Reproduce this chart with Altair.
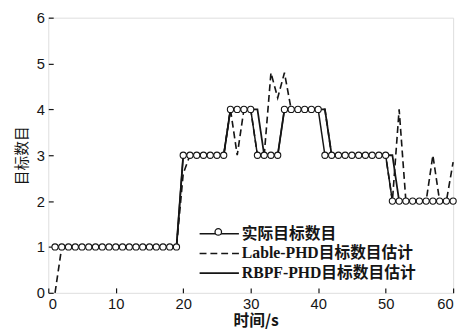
import altair as alt
import pandas as pd

names = ["实际目标数目", "Lable-PHD目标数目估计", "RBPF-PHD目标数目估计"]

t = [1, 2, 3, 4, 5, 6, 7, 8, 9, 10, 11, 12, 13, 14, 15, 16, 17, 18, 19, 20,
     21, 22, 23, 24, 25, 26, 27, 28, 29, 30, 31, 32, 33, 34, 35, 36, 37, 38, 39, 40,
     41, 42, 43, 44, 45, 46, 47, 48, 49, 50, 51, 52, 53, 54, 55, 56, 57, 58, 59, 60]

actual = [1, 1, 1, 1, 1, 1, 1, 1, 1, 1, 1, 1, 1, 1, 1, 1, 1, 1, 1, 3,
          3, 3, 3, 3, 3, 3, 4, 4, 4, 4, 3, 3, 3, 3, 4, 4, 4, 4, 4, 4,
          3, 3, 3, 3, 3, 3, 3, 3, 3, 3, 2, 2, 2, 2, 2, 2, 2, 2, 2, 2]

lable = [0, 1, 1, 1, 1, 1, 1, 1, 1, 1, 1, 1, 1, 1, 1, 1, 1, 1, 1, 2.6,
         3, 3, 3, 3, 3, 3, 4, 3, 4, 4, 3, 3, 4.8, 4.25, 4.8, 4, 4, 4, 4, 4,
         4, 3, 3, 3, 3, 3, 3, 3, 3, 3, 2, 4, 2, 2, 2, 2, 3, 2, 2, 2.85]

rbpf = [1, 1, 1, 1, 1, 1, 1, 1, 1, 1, 1, 1, 1, 1, 1, 1, 1, 1, 1, 3,
        3, 3, 3, 3, 3, 3, 4, 4, 4, 4, 4, 3, 3, 3, 4, 4, 4, 4, 4, 4,
        4, 3, 3, 3, 3, 3, 3, 3, 3, 3, 3, 2, 2, 2, 2, 2, 2, 2, 2, 2]

x_ticks = [0, 10, 20, 30, 40, 50, 60]
y_ticks = [0, 1, 2, 3, 4, 5, 6]

df = pd.DataFrame({
    "t": t + t + t,
    "v": actual + lable + rbpf,
    "s": [names[0]] * len(t) + [names[1]] * len(t) + [names[2]] * len(t),
})

INK = "#151515"
W, H = 412, 280

line_path = "M-2,0H2"

xs = alt.Scale(domain=[0, 60], nice=False, zero=False)
ys = alt.Scale(domain=[0, 6], nice=False)

line_legend = alt.Legend(
    title=None, orient="none", legendX=154, legendY=209, padding=0,
    labelFont="Liberation Serif, Noto Sans CJK SC", labelFontSize=16,
    labelFontWeight="bold", labelColor=INK, labelLimit=400, labelOffset=12,
    symbolSize=400, symbolOffset=9, symbolStrokeColor=INK, symbolStrokeWidth=1.7,
    symbolType=line_path, rowPadding=1, zindex=0)

marker_legend = alt.Legend(
    title=None, orient="none", legendX=169, legendY=214, padding=0,
    labelFontSize=1, labelOpacity=0, labelOffset=0,
    symbolType="circle", symbolSize=44, symbolOffset=0,
    symbolStrokeWidth=1.3, zindex=1)

lines = alt.Chart(df).mark_line(color=INK).encode(
    x=alt.X("t:Q", scale=xs, axis=alt.Axis(
        orient="bottom", values=x_ticks, tickSize=0, domain=False, grid=False,
        labelFont="Liberation Sans", labelFontSize=15, labelColor=INK, labelPadding=4,
        title="时间/s", titleFont="Noto Sans CJK SC", titleFontSize=16,
        titleFontWeight="bold", titleColor=INK, titleY=20, titleX=211,
        titleBaseline="top")),
    y=alt.Y("v:Q", scale=ys, axis=alt.Axis(
        orient="left", values=y_ticks, tickSize=0, domain=False, grid=False,
        labelFont="Liberation Sans", labelFontSize=15, labelColor=INK, labelPadding=4,
        title="目标数目", titleFont="Noto Sans CJK SC", titleFontSize=15,
        titleFontWeight="normal", titleColor=INK, titlePadding=7)),
    strokeDash=alt.StrokeDash("s:N", scale=alt.Scale(domain=names, range=[[1, 0], [7, 4], [1, 0]]),
                              legend=line_legend),
    strokeWidth=alt.StrokeWidth("s:N", scale=alt.Scale(domain=names, range=[1.5, 1.8, 1.5]), legend=None),
)

points = alt.Chart(df).transform_filter(alt.datum.s == names[0]).mark_point(
    filled=False, fill="white", fillOpacity=1, stroke=INK, strokeWidth=1.1, size=40, opacity=1
).encode(
    x=alt.X("t:Q", scale=xs, axis=alt.Axis(
        orient="top", offset=-H, values=x_ticks, tickSize=5, tickColor=INK, tickWidth=1.2,
        labels=False, domain=False, grid=False, title=None)),
    y=alt.Y("v:Q", scale=ys, axis=alt.Axis(
        orient="right", offset=-W, values=y_ticks, tickSize=5, tickColor=INK, tickWidth=1.2,
        labels=False, domain=False, grid=False, title=None)),
    shape=alt.Shape("s:N", scale=alt.Scale(domain=[names[0]], range=["circle"]),
                    legend=marker_legend),
)

chart = alt.layer(lines, points).resolve_axis(x="independent", y="independent").properties(
    width=W, height=H,
    autosize=alt.AutoSizeParams(type="none"),
    padding={"left": 41, "top": 7, "right": 7, "bottom": 35},
).configure_view(stroke="#333333", strokeWidth=1.6).configure(background="white")

chart.save("out.html", embed_options={"renderer": "svg", "actions": False})
